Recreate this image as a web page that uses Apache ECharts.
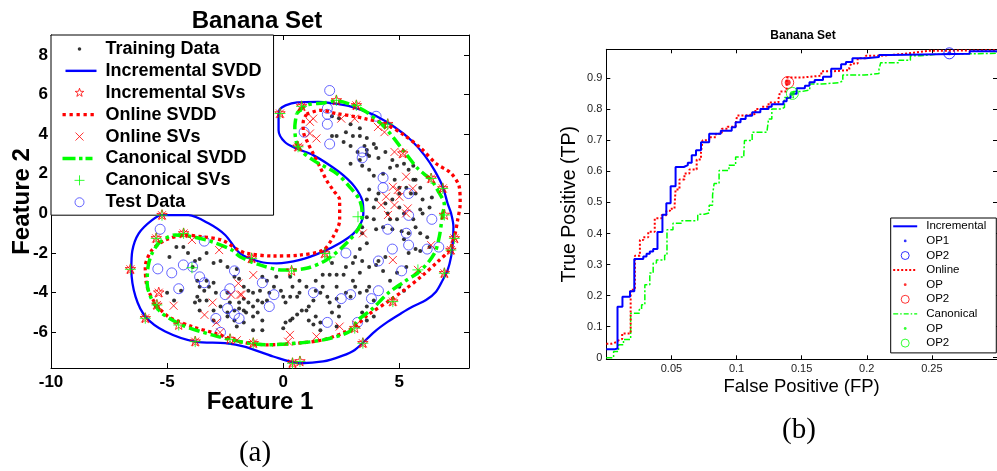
<!DOCTYPE html>
<html><head><meta charset="utf-8">
<script src="https://cdn.jsdelivr.net/npm/echarts@6.0.0/dist/echarts.min.js"></script>
<style>html,body{margin:0;padding:0;background:#fff}#c{width:997px;height:471px}</style>
</head><body><div id="c"></div>
<script>
// ---------- tick labels ----------
const leftXTicks = [-10, -5, 0, 5];
const leftYTicks = [-6, -4, -2, 0, 2, 4, 6, 8];
const rightXTicks = [0.05, 0.1, 0.15, 0.2, 0.25];
const rightYTicks = [0, 0.1, 0.2, 0.3, 0.4, 0.5, 0.6, 0.7, 0.8, 0.9];

// ---------- (a) Banana set ----------
const trainingData = [
 [2.1,4.9],[2.4,4.8],[2.9,4.5],[3.3,4.3],[2.7,4.1],[3.0,3.9],[3.3,3.9],[3.6,3.8],[3.5,3.4],[2.3,3.9],[2.1,3.9],[2.6,3.6],[2.9,3.4],[3.2,3.1],[3.6,3.2],[3.6,3.0],[3.9,3.5],[4.0,3.3],[3.7,2.9],[4.1,2.8],[2.9,2.5],[3.3,2.7],[3.4,2.4],[3.7,2.2],[3.9,1.9],[4.3,2.0],[4.6,2.3],[4.4,3.1],[4.7,2.7],[4.9,2.4],[4.8,1.7],[5.0,1.3],[5.2,2.5],[5.4,2.2],[5.6,2.4],[5.7,1.7],[5.9,1.3],[5.7,1.0],[5.9,0.2],[5.6,-0.3],[5.7,-0.7],[5.4,-1.0],[5.2,-1.3],[5.1,-0.9],
 [4.7,-0.8],[4.3,-0.7],[4.0,-0.8],[3.9,-0.3],[3.6,-0.2],[3.9,0.3],[4.0,0.7],[4.1,1.0],[3.7,1.2],[3.6,0.7],[3.4,-1.0],[3.4,-0.7],[3.6,-1.5],[3.3,-1.8],[3.4,-2.4],[3.7,-2.7],[4.0,-2.6],[4.1,-2.4],[4.4,-2.2],[4.3,-2.9],[4.6,-3.4],[4.9,-3.0],[5.0,-3.7],[5.2,-3.9],[5.3,-2.7],[5.4,-2.0],[5.7,-1.8],[5.9,-1.9],[5.9,-1.0],[6.2,-1.2],[6.3,-1.7],[6.0,0.0],[6.3,0.3],[6.0,0.7],[6.4,0.8],[4.7,0.7],[5.0,0.3],[5.2,0.0],[4.4,0.5],[4.5,0.0],[4.6,-0.3],[4.9,-0.3],[5.0,1.0],[5.3,1.3],[5.5,1.0],[5.6,1.7],
 [2.1,-2.5],[2.3,-3.1],[1.7,-3.1],[2.0,-3.1],[2.6,-3.1],[2.7,-2.7],[3.0,-2.5],[3.1,-2.2],[3.3,-3.0],[3.0,-3.4],[3.1,-3.7],[3.3,-4.0],[3.6,-3.9],[3.7,-3.7],[3.9,-4.4],[3.6,-4.7],[3.4,-5.0],[3.6,-5.4],[3.9,-5.2],[2.7,-4.0],[2.9,-4.2],[2.3,-4.3],[2.4,-4.7],[2.1,-5.0],[2.0,-4.5],[1.9,-4.2],[1.6,-4.0],[1.7,-3.7],[1.4,-3.9],[1.3,-4.4],[1.1,-4.7],[1.0,-4.9],[0.8,-4.9],[0.6,-5.1],[0.4,-5.3],[0.3,-5.4],[0.1,-5.5],[0.0,-5.8],[1.1,-5.4],[1.4,-5.2],[1.6,-5.5],[1.3,-5.6],[2.3,-5.7],[2.4,-5.2],[1.6,-5.9],[0.6,-4.2],[0.7,-4.0],[0.3,-4.2],[0.1,-4.5],[0.0,-4.2],[-0.1,-3.9],[-0.4,-3.7],[-0.6,-4.0],[-0.7,-4.4],[-0.9,-4.5],[-1.1,-4.4],[-1.3,-4.0],[-1.0,-3.9],[-0.7,-3.4],[-0.9,-3.2],[-0.3,-3.2],[-1.1,-5.0],[-0.9,-5.4],[-1.3,-4.7],[-1.6,-5.0],[-1.9,-4.8],[-2.1,-4.9],[-2.4,-5.0],[-2.1,-5.4],[-2.0,-5.7],[-2.3,-4.5],[-1.9,-4.5],[-1.7,-4.3],[0.3,-3.2],[0.4,-3.7],[1.0,-3.7],[0.7,-3.4],[1.4,-3.4],[2.3,-3.7],
 [-4.6,-1.7],[-4.3,-1.7],[-3.8,-2.4],[-3.6,-2.3],[-3.3,-2.0],[-3.0,-2.5],[-3.9,-2.7],[-3.7,-3.4],[-3.6,-3.7],[-3.4,-3.9],[-3.2,-3.7],[-3.3,-3.4],[-3.7,-4.2],[-3.8,-4.5],[-3.6,-4.4],[-3.0,-3.5],[-2.9,-4.0],[-2.4,-4.0],[-2.1,-3.2],[-1.9,-3.3],[-2.0,-2.8],[-1.7,-3.7],[-1.5,-3.9],[-1.5,-4.5],[-1.7,-4.9],[-1.3,-5.2],[-3.0,-4.9],[-2.7,-4.7],[-2.4,-5.2],[-5.0,-4.0],[-4.7,-4.4],[-4.4,-3.9],[-2.7,-2.4],[-2.4,-2.7],[-4.1,-2.0],[-4.9,-2.2],[-3.3,-4.4],[-3.0,-5.4],[-3.6,-4.9],[-1.3,-5.9],[-0.9,-5.9],[-1.7,-5.5]
];
const testData = [
 [2.0,6.2],[1.9,5.3],[1.9,5.0],[1.9,4.5],[2.0,3.5],[0.9,4.1],[4.0,4.9],[3.4,3.1],[3.4,2.8],[4.3,1.8],[4.3,1.3],[5.4,1.0],[5.4,-0.1],[6.4,-0.3],[5.3,-1.0],[5.4,-1.6],[4.5,-0.8],[4.7,-1.8],[6.2,-1.8],[6.7,-1.7],[4.1,-2.4],[5.1,-2.9],[2.7,-2.0],[4.1,-3.9],[3.8,-4.3],[3.2,-5.5],[1.9,-5.5],[2.9,-4.1],[2.5,-4.3],[1.3,-4.0],[-0.4,-4.1],[-0.6,-4.7],[-0.9,-3.5],[-2.1,-2.9],[-2.3,-3.8],[-2.5,-4.1],[-2.4,-4.8],[-2.1,-5.1],[-1.9,-5.3],[-2.9,-5.3],[-2.7,-6.0],[-3.4,-1.4],[-4.3,-2.6],[-3.9,-2.7],[-3.6,-3.2],[-3.4,-3.5],[-4.8,-3.0],[-4.5,-3.8],[-5.4,-2.8],[-5.3,-0.8]
];
const incrementalContour = [
 [-0.2,5.0],[-0.2,4.2],[0.07,3.6],[0.58,3.27],[1.29,2.94],[2.0,2.43],[2.58,1.93],[3.08,1.34],[3.4,0.67],[3.45,0.0],[3.3,-0.6],[3.0,-1.05],[2.43,-1.51],[1.72,-1.93],[0.72,-2.35],[-0.29,-2.52],[-1.0,-2.44],[-1.86,-2.02],[-2.5,-1.09],[-3.22,-0.5],[-4.08,-0.09],[-5.22,-0.09],[-5.65,-0.34],[-6.22,-1.01],[-6.5,-1.9],[-6.54,-2.82],[-6.36,-4.2],[-5.91,-5.24],[-5.08,-5.96],[-3.79,-6.47],[-2.5,-6.55],[-1.67,-6.72],[-0.43,-7.22],[0.72,-7.56],[1.72,-7.47],[2.5,-7.2],[3.08,-6.89],[3.94,-5.96],[4.51,-5.46],[5.08,-5.04],[5.58,-4.7],[6.15,-4.37],[6.58,-3.95],[6.87,-3.36],[7.08,-2.86],[7.23,-2.18],[7.3,-1.51],[7.33,-0.67],[7.23,0.0],[7.08,0.5],[6.87,1.34],[6.51,2.18],[6.08,2.94],[5.51,3.69],[4.79,4.36],[3.94,4.95],[3.4,5.2],[2.7,5.45],[1.5,5.63],[0.6,5.6],[0.1,5.45],[-0.15,5.25],[-0.2,5.0]
];
const onlineContour = [
 [1.0,5.0],[1.58,5.2],[2.29,5.04],[3.15,4.87],[3.51,4.78],[4.36,4.53],[5.22,3.94],[5.94,3.27],[6.58,2.52],[7.23,2.02],[7.58,1.34],[7.62,0.5],[7.51,-0.34],[7.37,-1.18],[7.15,-1.85],[6.65,-2.44],[5.94,-3.19],[5.22,-3.86],[4.51,-4.45],[3.65,-5.12],[3.2,-5.6],[2.72,-5.96],[1.72,-6.38],[0.58,-6.55],[-0.71,-6.63],[-1.86,-6.47],[-2.93,-6.05],[-3.93,-5.71],[-4.94,-5.21],[-5.51,-4.53],[-5.86,-3.7],[-5.94,-2.69],[-5.65,-1.85],[-5.08,-1.35],[-4.22,-1.09],[-3.5,-1.18],[-2.64,-1.35],[-1.93,-1.85],[-1.57,-2.02],[-0.43,-2.15],[0.72,-2.1],[1.72,-1.85],[2.15,-1.18],[2.43,-0.34],[2.43,0.67],[2.15,1.17],[1.86,1.68],[1.58,2.35],[1.29,3.02],[1.07,3.53],[0.86,4.19],[0.86,4.6],[1.0,5.0]
];
const canonicalContour = [
 [0.58,5.04],[1.0,5.46],[1.72,5.57],[2.29,5.67],[3.0,5.46],[3.6,5.1],[4.36,4.36],[5.22,3.1],[5.79,2.27],[6.37,1.68],[6.65,1.17],[6.94,0.42],[6.87,0.0],[6.72,-1.18],[6.51,-2.02],[5.94,-2.86],[5.22,-3.44],[4.51,-4.03],[3.79,-4.87],[3.22,-5.38],[2.86,-5.96],[1.72,-6.38],[0.58,-6.55],[-0.71,-6.63],[-1.86,-6.47],[-3.07,-6.13],[-4.36,-5.63],[-5.22,-5.04],[-5.65,-4.37],[-5.86,-3.53],[-5.82,-2.69],[-5.65,-2.02],[-5.29,-1.43],[-4.65,-1.09],[-3.93,-1.18],[-3.07,-1.43],[-2.21,-1.85],[-1.86,-2.19],[-1.0,-2.6],[0.0,-2.86],[1.0,-2.77],[1.86,-2.35],[2.72,-1.51],[3.29,-0.67],[3.4,0.0],[3.29,0.67],[2.86,1.34],[2.29,2.02],[1.29,2.69],[0.64,3.36],[0.5,4.36],[0.58,5.04]
];
const incrementalSVs = [
 [-0.14,5.04],[0.79,5.4],[2.29,5.7],[3.15,5.45],[0.64,3.36],[4.5,4.5],[6.37,1.76],[6.87,1.26],[6.94,-0.08],[7.37,-1.26],[7.22,-1.85],[6.94,-3.02],[4.72,-4.45],[3.43,-6.55],[3.08,-5.79],[0.72,-7.47],[0.4,-7.56],[-1.29,-6.55],[-2.29,-6.35],[-3.79,-6.47],[-5.94,-5.29],[-5.44,-4.62],[-6.58,-2.82],[-5.47,-1.26],[-5.22,-0.09],[-4.29,-1.01],[-1.36,-2.27],[0.36,-2.9],[1.79,-2.02],[5.15,3.02],[-4.5,-5.63],[-5.36,-4.0]
];
const onlineSVs = [
 [1.15,4.62],[1.29,4.78],[1.15,4.03],[1.43,3.78],[2.5,4.78],[3.08,4.78],[4.08,4.36],[4.36,4.1],[4.79,3.1],[5.29,1.85],[5.58,1.26],[4.72,1.34],[4.93,1.18],[4.43,0.84],[5.0,0.84],[4.22,0.42],[4.79,0.42],[5.36,0.25],[4.51,-0.08],[5.29,0.0],[3.43,-1.01],[4.72,-2.35],[6.37,-1.6],[5.8,-2.85],[3.15,-5.62],[-1.29,-3.11],[-1.79,-4.1],[0.29,-6.13],[0.21,-6.47],[1.43,-6.21],[2.43,-5.71],[-3.93,-1.34],[-2.76,-1.85],[-4.72,-4.66],[-3.04,-4.5],[-3.39,-5.12],[-1.93,-3.53],[-1.86,-4.1],[-2.25,-4.1],[-2.72,-6.0],[-2.88,-5.51],[-2.0,-6.4],
 [-0.14,5.04],[0.79,5.4],[3.15,5.45],[0.64,3.36],[5.15,3.02],[6.37,1.76],[6.87,1.26],[7.37,-1.26],[7.22,-1.85],[6.94,-3.02],[4.72,-4.45],[3.43,-6.55],[0.4,-7.56],[-1.29,-6.55],[-3.79,-6.47],[-5.94,-5.29],[-5.44,-4.62],[-6.58,-2.82],[-5.47,-1.26],[-5.22,-0.09],[-4.29,-1.01],[-1.36,-2.27],[1.79,-2.02],[-5.36,-4.0]
];
const canonicalSVs = [
 [-0.14,5.04],[0.79,5.4],[2.29,5.7],[3.15,5.45],[0.64,3.36],[4.5,4.5],[6.37,1.76],[6.87,1.26],[6.94,-0.08],[7.37,-1.26],[7.22,-1.85],[6.94,-3.02],[4.72,-4.45],[3.43,-6.55],[3.08,-5.79],[0.72,-7.47],[0.4,-7.56],[-1.29,-6.55],[-2.29,-6.35],[-3.79,-6.47],[-5.94,-5.29],[-5.44,-4.62],[-6.58,-2.82],[-5.47,-1.26],[-5.22,-0.09],[-4.29,-1.01],[-1.36,-2.27],[0.36,-2.9],[1.79,-2.02],[-4.5,-5.63],[3.22,-0.17],[-3.93,-2.74],[5.8,-2.85],[2.0,-2.2]
];

// ---------- (b) ROC curves ----------
const rocIncremental = [
 [0,0.027],[0.006,0.03],[0.0086,0.164],[0.0124,0.196],[0.0182,0.214],[0.0215,0.318],[0.0284,0.326],[0.0309,0.335],[0.0334,0.342],[0.036,0.35],[0.0393,0.405],[0.0431,0.46],[0.0461,0.497],[0.0494,0.552],[0.0532,0.614],[0.0595,0.62],[0.0626,0.628],[0.0656,0.652],[0.0689,0.668],[0.0727,0.694],[0.079,0.721],[0.0879,0.731],[0.0963,0.742],[0.0993,0.758],[0.1031,0.769],[0.107,0.779],[0.112,0.79],[0.1183,0.801],[0.1246,0.808],[0.127,0.816],[0.136,0.826],[0.1385,0.836],[0.1415,0.85],[0.1462,0.868],[0.1525,0.876],[0.156,0.887],[0.16,0.894],[0.1664,0.905],[0.1727,0.93],[0.1803,0.945],[0.184,0.952],[0.189,0.964],[0.1993,0.968],[0.2094,0.975],[0.218,0.979],[0.279,0.987],[0.3,0.99]
];
const rocOnline = [
 [0,0.045],[0.004,0.05],[0.0075,0.056],[0.0094,0.06],[0.0122,0.078],[0.0187,0.219],[0.022,0.328],[0.0258,0.379],[0.0284,0.388],[0.0322,0.406],[0.0372,0.449],[0.0423,0.459],[0.0461,0.473],[0.049,0.48],[0.0524,0.488],[0.0532,0.542],[0.0562,0.574],[0.06,0.593],[0.0638,0.606],[0.0694,0.638],[0.0727,0.662],[0.0739,0.7],[0.079,0.71],[0.0841,0.721],[0.0887,0.737],[0.093,0.744],[0.0993,0.753],[0.1005,0.78],[0.107,0.785],[0.1145,0.801],[0.1195,0.808],[0.1246,0.822],[0.1322,0.833],[0.1335,0.857],[0.1385,0.902],[0.15,0.908],[0.1651,0.922],[0.1727,0.926],[0.1866,0.934],[0.188,0.947],[0.193,0.964],[0.1993,0.972],[0.2094,0.977],[0.2259,0.982],[0.236,0.988],[0.2474,0.99],[0.3,0.99]
];
const rocCanonical = [
 [0,0.0],[0.0056,0.02],[0.0094,0.042],[0.0132,0.059],[0.0187,0.143],[0.0253,0.155],[0.0271,0.171],[0.0296,0.235],[0.0334,0.273],[0.036,0.305],[0.0385,0.315],[0.0448,0.33],[0.0466,0.412],[0.0512,0.433],[0.0575,0.441],[0.0684,0.443],[0.0702,0.462],[0.0752,0.466],[0.079,0.491],[0.0816,0.524],[0.0828,0.561],[0.0866,0.603],[0.0942,0.62],[0.0993,0.646],[0.1056,0.657],[0.1061,0.699],[0.112,0.726],[0.1233,0.731],[0.1246,0.769],[0.1271,0.801],[0.1347,0.806],[0.1368,0.838],[0.1436,0.857],[0.15,0.862],[0.1562,0.881],[0.1651,0.886],[0.1791,0.891],[0.1816,0.91],[0.1981,0.915],[0.2094,0.929],[0.2107,0.95],[0.2246,0.958],[0.2335,0.972],[0.2411,0.977],[0.2538,0.98],[0.3,0.986]
];
const opIncremental = [[0.2634, 0.98]];
const opOnline = [[0.1393, 0.886]];
const opCanonical = [[0.1429, 0.851]];

// ---------- styling ----------
const SANS = '"Liberation Sans", Arial, Helvetica, sans-serif';
const SERIF = '"Liberation Serif", "Times New Roman", serif';
const BLUE = '#0000ff', RED = '#ff0000', GREEN = '#00ff00';
const STAR = 'path://M0,0M10,10M5,0L6.18,3.38L9.76,3.45L6.9,5.62L7.94,9.05L5,7L2.06,9.05L3.1,5.62L0.24,3.45L3.82,3.38Z';
const XMARK = 'path://M0,0L10,10M0,10L10,0';
const PLUS = 'path://M5,0L5,10M0,5L10,5';
const hollow = c => ({color: 'rgba(0,0,0,0)', borderColor: c, borderWidth: 1});

function frameAxis(gridIndex, pos, min, max, ticks, len) {
  return {gridIndex, type: 'value', position: pos, min, max,
    axisLine: {show: true, onZero: false, lineStyle: {color: '#000', width: 1}},
    axisTick: {show: true, inside: true, length: len, customValues: ticks, lineStyle: {color: '#000', width: 1}},
    axisLabel: {show: false, customValues: ticks},
    splitLine: {show: false}};
}
function mainAxis(gridIndex, pos, min, max, ticks, len, label, name) {
  const a = frameAxis(gridIndex, pos, min, max, ticks, len);
  a.axisLabel = Object.assign({show: true, customValues: ticks}, label);
  Object.assign(a, {nameMoveOverlap: false}, name);
  return a;
}

const leftLabel = {color: '#000', fontSize: 17, fontWeight: 'bold', fontFamily: SANS};
const rightLabel = {color: '#222', fontSize: 11, fontFamily: SANS};

// legend icons (bounding box padded by leading moveTo points)
const L = 'path://M0,0M38,10';
const legIconsL = {
  dot: L + 'M15.2,5a1.8,1.8 0 1,0 3.6,0a1.8,1.8 0 1,0 -3.6,0z',
  solid: L + 'M3,3.8h31v2.4h-31z',
  star: L + 'M17,0.5L18.06,3.54L21.28,3.61L18.71,5.56L19.65,8.64L17,6.8L14.35,8.64L15.29,5.56L12.72,3.61L15.94,3.54Z',
  dots: L + 'M0,3.35h3.3v3.3h-3.3zM7,3.35h3.3v3.3h-3.3zM14,3.35h3.3v3.3h-3.3zM21,3.35h3.3v3.3h-3.3zM28,3.35h3.3v3.3h-3.3z',
  x: L + 'M13,1L21,9M13,9L21,1',
  dashdot: L + 'M0,3.25h13v3.5h-13zM16.5,3.25h3.5v3.5h-3.5zM23,3.25h7v3.5h-7z',
  plus: L + 'M17,0L17,10M12,5L22,5',
  circle: L + 'M12.5,5a4.5,4.5 0 1,0 9,0a4.5,4.5 0 1,0 -9,0z'
};
const R = 'path://M0,0M28,10';
const legIconsR = {
  solid: R + 'M0,4h24v2h-24z',
  dot: R + 'M10.6,5a1.4,1.4 0 1,0 2.8,0a1.4,1.4 0 1,0 -2.8,0z',
  circle: R + 'M8,5a4,4 0 1,0 8,0a4,4 0 1,0 -8,0z',
  dots: R + 'M0,4h2v2h-2zM4,4h2v2h-2zM8,4h2v2h-2zM12,4h2v2h-2zM16,4h2v2h-2zM20,4h2v2h-2z',
  dashdot: R + 'M0,4.3h5v1.4h-5zM7,4.3h1.5v1.4h-1.5zM10.5,4.3h5v1.4h-5zM17.5,4.3h1.5v1.4h-1.5zM21,4.3h3v1.4h-3z'
};
const fillS = c => ({color: c, borderWidth: 0});

const option = {
  animation: false,
  backgroundColor: '#fff',
  title: [
    {text: 'Banana Set', left: 257, top: 21, textAlign: 'center', textVerticalAlign: 'middle', padding: 0,
     textStyle: {fontSize: 24, fontWeight: 'bold', color: '#000', fontFamily: SANS}},
    {text: 'Banana Set', left: 803, top: 36, textAlign: 'center', textVerticalAlign: 'middle', padding: 0,
     textStyle: {fontSize: 12, fontWeight: 'bold', color: '#000', fontFamily: SANS}}
  ],
  grid: [
    {left: 51, top: 35, width: 418, height: 333},
    {left: 606.3, top: 49.3, width: 394.8, height: 310}
  ],
  xAxis: [
    mainAxis(0, 'bottom', -10, 8, leftXTicks, 5, Object.assign({margin: 5.5}, leftLabel),
      {name: 'Feature 1', nameLocation: 'middle', nameGap: 22.5,
       nameTextStyle: {fontSize: 24, fontWeight: 'bold', color: '#000', fontFamily: SANS}}),
    frameAxis(0, 'top', -10, 8, leftXTicks, 5),
    mainAxis(1, 'bottom', 0, 0.3, rightXTicks, 4, Object.assign({margin: 4.5}, rightLabel),
      {name: 'False Positive (FP)', nameLocation: 'middle', nameGap: 18.5,
       nameTextStyle: {fontSize: 18.5, color: '#000', fontFamily: SANS}}),
    frameAxis(1, 'top', 0, 0.3, rightXTicks, 4)
  ],
  yAxis: [
    mainAxis(0, 'left', -7.8, 9, leftYTicks, 5, Object.assign({margin: 3}, leftLabel),
      {name: 'Feature 2', nameLocation: 'middle', nameGap: 16.5,
       nameTextStyle: {fontSize: 24, fontWeight: 'bold', color: '#000', fontFamily: SANS}}),
    frameAxis(0, 'right', -7.8, 9, leftYTicks, 5),
    mainAxis(1, 'left', -0.005, 0.993, rightYTicks, 4, Object.assign({margin: 4}, rightLabel),
      {name: 'True Positive (TP)', nameLocation: 'middle', nameGap: 27,
       nameTextStyle: {fontSize: 19.5, color: '#000', fontFamily: SANS}}),
    frameAxis(1, 'right', -0.005, 0.993, rightYTicks, 4)
  ],
  legend: [
    {orient: 'vertical', left: 51, top: 35, padding: [3, 12, 2, 11], itemWidth: 38, itemHeight: 10, itemGap: 0,
     backgroundColor: '#fff', borderColor: '#000', borderWidth: 1, selectedMode: false,
     textStyle: {fontSize: 18, fontWeight: 'bold', color: '#000', fontFamily: SANS, lineHeight: 21.9},
     data: [
       {name: 'Training Data', icon: legIconsL.dot, itemStyle: fillS('#000')},
       {name: 'Incremental SVDD', icon: legIconsL.solid, itemStyle: fillS(BLUE)},
       {name: 'Incremental SVs', icon: legIconsL.star, itemStyle: hollow(RED)},
       {name: 'Online SVDD', icon: legIconsL.dots, itemStyle: fillS(RED)},
       {name: 'Online SVs', icon: legIconsL.x, itemStyle: hollow(RED)},
       {name: 'Canonical SVDD', icon: legIconsL.dashdot, itemStyle: fillS(GREEN)},
       {name: 'Canonical SVs', icon: legIconsL.plus, itemStyle: hollow(GREEN)},
       {name: 'Test Data', icon: legIconsL.circle, itemStyle: hollow('#3f3fff')}
     ]},
    {orient: 'vertical', left: 890.7, top: 218, padding: [1, 10, 2.5, 2], itemWidth: 28, itemHeight: 10, itemGap: 0,
     backgroundColor: '#fff', borderColor: '#000', borderWidth: 1, selectedMode: false,
     textStyle: {fontSize: 11.5, color: '#000', fontFamily: SANS, lineHeight: 14.6},
     data: [
       {name: 'Incremental', icon: legIconsR.solid, itemStyle: fillS(BLUE)},
       {name: 'OP1', icon: legIconsR.dot, itemStyle: fillS(BLUE)},
       {name: 'OP2', icon: legIconsR.circle, itemStyle: hollow(BLUE)},
       {name: 'Online', icon: legIconsR.dots, itemStyle: fillS(RED)},
       {name: 'OP', icon: legIconsR.dot, itemStyle: fillS(RED)},
       {name: 'OP2 ', icon: legIconsR.circle, itemStyle: hollow(RED)},
       {name: 'Canonical', icon: legIconsR.dashdot, itemStyle: fillS(GREEN)},
       {name: 'OP ', icon: legIconsR.dot, itemStyle: fillS(GREEN)},
       {name: 'OP2  ', icon: legIconsR.circle, itemStyle: hollow(GREEN)}
     ]}
  ],
  series: [
    {name: 'Training Data', type: 'scatter', xAxisIndex: 0, yAxisIndex: 0, data: trainingData,
     symbol: 'circle', symbolSize: 4, itemStyle: {color: '#000'}, z: 2},
    {name: 'Test Data', type: 'scatter', xAxisIndex: 0, yAxisIndex: 0, data: testData,
     symbol: 'circle', symbolSize: 10, itemStyle: hollow('#3f3fff'), z: 3},
    {name: 'Incremental SVDD', type: 'line', xAxisIndex: 0, yAxisIndex: 0, data: incrementalContour,
     smooth: 0.3, symbol: 'none', color: BLUE, lineStyle: {color: BLUE, width: 2.3}, z: 4},
    {name: 'Online SVDD', type: 'line', xAxisIndex: 0, yAxisIndex: 0, data: onlineContour,
     smooth: 0.3, symbol: 'none', color: RED, lineStyle: {color: RED, width: 3.3, type: [3.3, 3.3]}, z: 4},
    {name: 'Canonical SVDD', type: 'line', xAxisIndex: 0, yAxisIndex: 0, data: canonicalContour,
     smooth: 0.3, symbol: 'none', color: GREEN, lineStyle: {color: GREEN, width: 3.5, type: [11, 4, 3.5, 4]}, z: 4},
    {name: 'Online SVs', type: 'scatter', xAxisIndex: 0, yAxisIndex: 0, data: onlineSVs,
     symbol: XMARK, symbolSize: 8, itemStyle: hollow(RED), z: 5},
    {name: 'Incremental SVs', type: 'scatter', xAxisIndex: 0, yAxisIndex: 0, data: incrementalSVs,
     symbol: STAR, symbolSize: 11, itemStyle: hollow(RED), z: 5},
    {name: 'Canonical SVs', type: 'scatter', xAxisIndex: 0, yAxisIndex: 0, data: canonicalSVs,
     symbol: PLUS, symbolSize: 11, itemStyle: hollow(GREEN), z: 5},

    {name: 'Canonical', type: 'line', xAxisIndex: 2, yAxisIndex: 2, data: rocCanonical, step: 'end',
     symbol: 'none', color: GREEN, lineStyle: {color: GREEN, width: 1.5, type: [6, 2, 2, 2]}, z: 3},
    {name: 'Online', type: 'line', xAxisIndex: 2, yAxisIndex: 2, data: rocOnline, step: 'end',
     symbol: 'none', color: RED, lineStyle: {color: RED, width: 2, type: [2, 2]}, z: 3},
    {name: 'Incremental', type: 'line', xAxisIndex: 2, yAxisIndex: 2, data: rocIncremental, step: 'end',
     symbol: 'none', color: BLUE, lineStyle: {color: BLUE, width: 2}, z: 4},
    {name: 'OP1', type: 'scatter', xAxisIndex: 2, yAxisIndex: 2, data: opIncremental,
     symbol: 'circle', symbolSize: 4, itemStyle: {color: BLUE}, z: 6},
    {name: 'OP2', type: 'scatter', xAxisIndex: 2, yAxisIndex: 2, data: opIncremental,
     symbol: 'circle', symbolSize: 11, itemStyle: hollow(BLUE), z: 6},
    {name: 'OP', type: 'scatter', xAxisIndex: 2, yAxisIndex: 2, data: opOnline,
     symbol: 'circle', symbolSize: 6, itemStyle: {color: RED}, z: 6},
    {name: 'OP2 ', type: 'scatter', xAxisIndex: 2, yAxisIndex: 2, data: opOnline,
     symbol: 'circle', symbolSize: 12, itemStyle: hollow(RED), z: 6},
    {name: 'OP ', type: 'scatter', xAxisIndex: 2, yAxisIndex: 2, data: opCanonical,
     symbol: 'circle', symbolSize: 5, itemStyle: {color: GREEN}, z: 6},
    {name: 'OP2  ', type: 'scatter', xAxisIndex: 2, yAxisIndex: 2, data: opCanonical,
     symbol: 'circle', symbolSize: 12, itemStyle: hollow(GREEN), z: 6}
  ],
  graphic: [
    {type: 'text', x: 255, y: 453.5, style: {text: '(a)', fill: '#000', font: '29px ' + SERIF,
      align: 'center', verticalAlign: 'middle', textAlign: 'center', textVerticalAlign: 'middle'}},
    {type: 'text', x: 799, y: 430, style: {text: '(b)', fill: '#000', font: '29px ' + SERIF,
      align: 'center', verticalAlign: 'middle', textAlign: 'center', textVerticalAlign: 'middle'}}
  ]
};
const chart = echarts.init(document.getElementById('c'), null, {renderer: 'canvas'});
chart.setOption(option);
</script></body></html>
